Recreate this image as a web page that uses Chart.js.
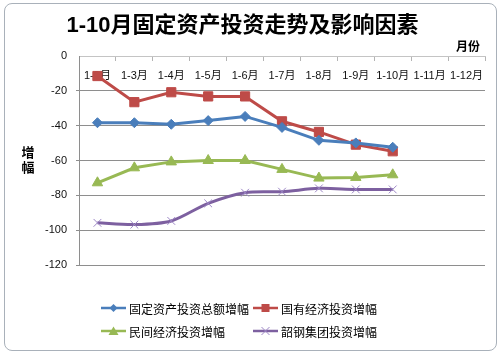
<!DOCTYPE html>
<html><head><meta charset="utf-8">
<script src="https://cdn.jsdelivr.net/npm/chart.js@4/dist/chart.umd.min.js"></script>
<style>
html,body{margin:0;padding:0;background:#fff;}
#wrap{position:relative;width:500px;height:356px;overflow:hidden;font-family:"Liberation Sans","Noto Sans CJK SC",sans-serif;}
#frame{position:absolute;left:4px;top:3px;width:491px;height:346px;border:1px solid #a9b1ba;border-radius:8px;background:#fff;}
canvas{position:absolute;left:0;top:0;}
.lbl{position:absolute;font-weight:bold;color:#000;white-space:nowrap;}
#ylab{left:21px;top:145px;font-size:13px;line-height:15px;width:14px;text-align:center;}
#xlab{left:456px;top:37px;font-size:12px;}
#legend{position:absolute;left:101px;top:300px;width:300px;font-size:12px;color:#000;}
.item{position:absolute;height:16px;display:flex;align-items:center;white-space:nowrap;}
.item svg{margin-right:3px;}
</style></head>
<body>
<div id="wrap">
<div id="frame"></div>
<canvas id="c" width="500" height="356"></canvas>
<div class="lbl" id="ylab">增<br>幅</div>
<div class="lbl" id="xlab">月份</div>
<div id="legend"></div>
</div>
<script>
const categories = ['1-2月','1-3月','1-4月','1-5月','1-6月','1-7月','1-8月','1-9月','1-10月','1-11月','1-12月'];
const seriesNames = ['固定资产投资总额增幅','国有经济投资增幅','民间经济投资增幅','韶钢集团投资增幅'];
const totalGrowth   = [-38.3,-38.3,-39.2,-37.1,-34.7,-41.0,-48.4,-49.9,-52.4];
const stateGrowth   = [-11.5,-26.5,-20.8,-23.2,-23.2,-37.5,-43.6,-50.9,-54.7];
const privateGrowth = [-72.8,-64.2,-60.8,-60.0,-60.0,-65.1,-70.1,-69.7,-68.2];
const shaoGangGrowth= [-95.8,-96.8,-94.7,-84.6,-78.5,-77.9,-76.0,-76.6,-76.6];
const yMin = -120, yMax = 0, yStep = 20;

const FONT = '"Liberation Sans","Noto Sans CJK SC",sans-serif';
const styles = [
  {line:'#4A7EBB', fill:'#4A7EBB', pt:'rectRot', r:5, bw:1, tension:0},
  {line:'#BE4B48', fill:'#BE4B48', pt:'rect', r:6.5, bw:1, tension:0},
  {line:'#98B954', fill:'#98B954', pt:'triangle', r:6, bw:1, tension:0},
  {line:'#7D60A0', fill:'#9D87C6', pt:'crossRot', r:5.5, bw:1, tension:0.3}
];
const seriesData = [totalGrowth, stateGrowth, privateGrowth, shaoGangGrowth];

const datasets = seriesData.map((d,i)=>({
  label: seriesNames[i],
  data: d,
  borderColor: styles[i].line,
  backgroundColor: styles[i].fill,
  borderWidth: 3,
  pointStyle: styles[i].pt,
  pointRadius: styles[i].r,
  pointBackgroundColor: styles[i].fill,
  pointBorderColor: styles[i].fill,
  pointBorderWidth: styles[i].bw,
  tension: styles[i].tension,
  fill: false
}));

new Chart(document.getElementById('c'), {
  type: 'line',
  data: { labels: categories, datasets },
  options: {
    responsive: false,
    animation: false,
    layout: { padding: { left: 0, right: 15, top: 0, bottom: 91 } },
    plugins: {
      legend: { display: false },
      tooltip: { enabled: false },
      title: {
        display: true,
        text: '1-10月固定资产投资走势及影响因素',
        color: '#000',
        font: { size: 22, weight: 'bold', family: FONT, lineHeight: 1.2 },
        padding: { top: 13, bottom: 0 }
      }
    },
    scales: {
      x: {
        position: 'top',
        offset: true,
        grid: { offset: true, drawOnChartArea: false, tickLength: -5, color: '#b4b4b4' },
        border: { color: '#c4c4c4' },
        ticks: { mirror: true, padding: 13, color: '#111', font: { size: 11, family: FONT }, maxRotation: 0, autoSkip: false },
        afterFit(s) { s.height = 16.6; }
      },
      y: {
        min: yMin, max: yMax,
        ticks: { stepSize: yStep, padding: 9, color: '#111', font: { size: 11, family: FONT } },
        grid: { color: ctx => (ctx.tick && ctx.tick.value === 0) ? 'rgba(0,0,0,0)' : '#8e8e8e', tickLength: 3 },
        border: { color: '#8e8e8e' },
        afterFit(s) { s.width = 79; }
      }
    }
  }
});

// HTML legend built from the series
function markerSvg(st){
  const c = st.fill, cx = 12.5, cy = 8;
  let m = '';
  if (st.pt === 'rectRot') m = `<polygon points="${cx},${cy-4} ${cx+4},${cy} ${cx},${cy+4} ${cx-4},${cy}" fill="${c}"/>`;
  else if (st.pt === 'rect') m = `<rect x="${cx-4}" y="${cy-4}" width="8" height="8" fill="${c}"/>`;
  else if (st.pt === 'triangle') m = `<polygon points="${cx},${cy-4.5} ${cx+5},${cy+4} ${cx-5},${cy+4}" fill="${c}"/>`;
  else m = `<path d="M${cx-4} ${cy-4}L${cx+4} ${cy+4}M${cx+4} ${cy-4}L${cx-4} ${cy+4}" stroke="${c}" stroke-width="1"/>`;
  return `<svg width="25" height="16"><line x1="0" y1="${cy}" x2="25" y2="${cy}" stroke="${st.line}" stroke-width="2.5"/>${m}</svg>`;
}
const legendPos = [[0,0],[152,0],[0,23],[152,23]];
const lg = document.getElementById('legend');
seriesNames.forEach((n,i)=>{
  const d = document.createElement('div');
  d.className = 'item';
  d.style.left = legendPos[i][0] + 'px';
  d.style.top = legendPos[i][1] + 'px';
  d.innerHTML = markerSvg(styles[i]) + '<span>' + n + '</span>';
  lg.appendChild(d);
});
</script>
</body></html>
